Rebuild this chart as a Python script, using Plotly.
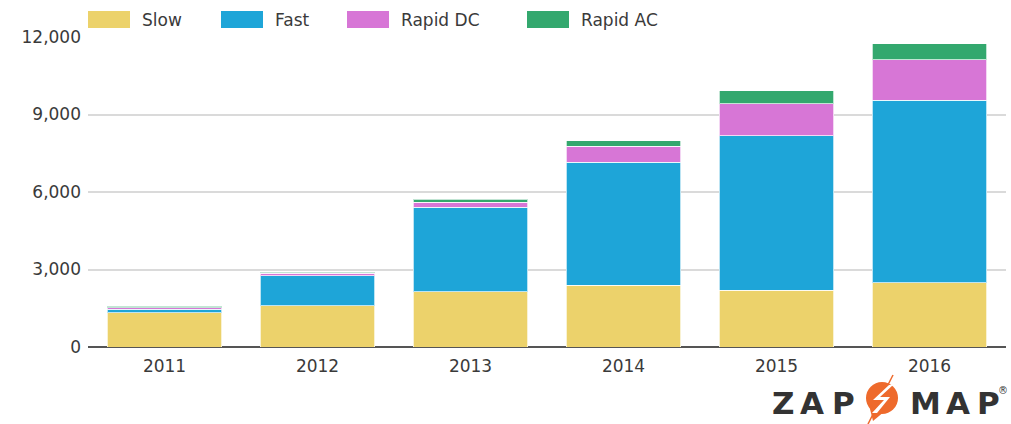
import plotly.graph_objects as go

years = ["2011", "2012", "2013", "2014", "2015", "2016"]
slow = [1320, 1590, 2130, 2400, 2200, 2480]
fast = [140, 1170, 3280, 4750, 5970, 7070]
rapid_dc = [60, 90, 190, 630, 1240, 1570]
rapid_ac = [55, 50, 115, 210, 510, 620]

series_names = ["Slow", "Fast", "Rapid DC", "Rapid AC"]
series_values = [slow, fast, rapid_dc, rapid_ac]
colors = ["#ECD26B", "#1EA5D8", "#D776D6", "#33A86E"]

y_ticks = [0, 3000, 6000, 9000, 12000]
y_ticktext = ["0", "3,000", "6,000", "9,000", "12,000"]

FONT = "DejaVu Sans"
TXT = "#3A3A3A"

# plot area in pixels
L, R, T, B = 88, 1006, 37, 347
W, H = 1011, 424


def px(x):
    return (x - L) / (R - L)


def py(y):
    return (B - y) / (B - T)


fig = go.Figure()
for name, vals, col in zip(series_names, series_values, colors):
    fig.add_trace(go.Bar(
        x=years, y=vals, name=name,
        marker=dict(color=col, line=dict(color="rgba(255,255,255,0.7)", width=1)),
        showlegend=False,
    ))

shapes = []
annotations = []

# custom legend
legend_pos = [(88, 140), (221, 273), (347, 399), (527, 579)]
for (sx, tx), name, col in zip(legend_pos, series_names, colors):
    shapes.append(dict(type="rect", xref="paper", yref="paper",
                       x0=px(sx), x1=px(sx + 42), y0=py(28), y1=py(11),
                       fillcolor=col, line=dict(width=0), layer="above"))
    annotations.append(dict(x=px(tx), y=py(19.5), xref="paper", yref="paper",
                            text=name, showarrow=False, xanchor="left", yanchor="middle",
                            font=dict(family=FONT, size=17, color=TXT)))

# Zap-Map logo
logo_letters = [("Z", 782.5), ("A", 812), ("P", 843.5), ("M", 925), ("A", 958), ("P", 988.5)]
for ch, cx in logo_letters:
    annotations.append(dict(x=px(cx), y=py(403), xref="paper", yref="paper",
                            text="<b>" + ch + "</b>", showarrow=False,
                            xanchor="center", yanchor="middle",
                            font=dict(family=FONT, size=31, color="#333333")))
annotations.append(dict(x=px(1003), y=py(390), xref="paper", yref="paper",
                        text="®", showarrow=False, xanchor="center", yanchor="middle",
                        font=dict(family=FONT, size=10, color="#333333")))

ORANGE = "#EE6A2C"
# pin body
shapes.append(dict(type="circle", xref="paper", yref="paper",
                   x0=px(866), x1=px(898), y0=py(414), y1=py(382),
                   fillcolor=ORANGE, line=dict(width=0), layer="above"))


def path(points):
    s = "M " + " L ".join(f"{px(a):.5f},{py(b):.5f}" for a, b in points) + " Z"
    return s


shapes.append(dict(type="path", xref="paper", yref="paper",
                   path=path([(869, 405), (885, 411), (873, 421)]),
                   fillcolor=ORANGE, line=dict(width=0), layer="above"))
# thin diagonal strokes
shapes.append(dict(type="line", xref="paper", yref="paper",
                   x0=px(893), y0=py(375), x1=px(868), y1=py(424),
                   line=dict(color=ORANGE, width=1.5), layer="above"))
# lightning bolt
shapes.append(dict(type="path", xref="paper", yref="paper",
                   path=path([(889, 385), (873, 400), (884, 400), (872, 413),
                              (877, 413), (890, 397), (880, 397), (893, 385)]),
                   fillcolor="white", line=dict(width=0), layer="above"))

fig.update_layout(
    width=W, height=H,
    margin=dict(l=L, r=W - R, t=T, b=H - B),
    barmode="stack",
    bargap=0.25,
    plot_bgcolor="white", paper_bgcolor="white",
    font=dict(family=FONT, size=17, color=TXT),
    shapes=shapes,
    annotations=annotations,
    xaxis=dict(
        type="category", showgrid=False, showline=False, zeroline=False,
        ticks="", ticklabelstandoff=7,
        tickfont=dict(family=FONT, size=17, color=TXT),
    ),
    yaxis=dict(
        range=[0, 12000], tickvals=y_ticks, ticktext=y_ticktext,
        showgrid=True, gridcolor="#DADADA", gridwidth=2,
        zeroline=True, zerolinecolor="#555555", zerolinewidth=2,
        showline=False, ticks="", ticklabelstandoff=6,
        tickfont=dict(family=FONT, size=17, color=TXT),
    ),
)

fig.write_html("out.html", config={"displayModeBar": False},
               post_script="document.body.style.margin='0px';document.body.style.overflow='hidden';")
